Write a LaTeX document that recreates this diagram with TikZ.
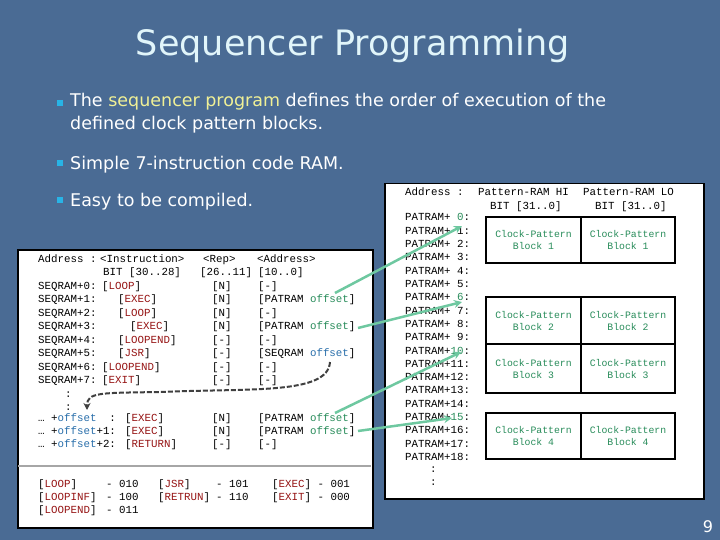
\documentclass[tikz,border=0pt]{standalone}
\usepackage{fontspec}
\setmainfont{DejaVu Sans}
\newfontfamily\mono{Liberation Mono}
\usetikzlibrary{arrows.meta}
\definecolor{bgblue}{RGB}{74,107,148}
\definecolor{kred}{RGB}{150,20,20}
\definecolor{ogreen}{RGB}{40,140,90}
\definecolor{oblue}{RGB}{40,110,170}
\definecolor{agreen}{RGB}{110,200,160}
\definecolor{bcyan}{RGB}{40,180,230}
\definecolor{ttl}{RGB}{225,245,250}
\definecolor{hl}{RGB}{240,240,150}
\newcommand{\KK}[1]{\textcolor{kred}{#1}}
\newcommand{\GG}[1]{\textcolor{ogreen}{#1}}
\newcommand{\BB}[1]{\textcolor{oblue}{#1}}
\tikzset{
 mt/.style={anchor=base west,inner sep=0pt,font=\mono\fontsize{10.8}{12}\selectfont,text=black},
 bl/.style={anchor=base west,inner sep=0pt,font=\fontsize{17.5}{23}\selectfont,text=white,align=left},
 sq/.style={fill=bcyan,minimum size=6pt,inner sep=0pt},
 panel/.style={fill=white,draw=black,line width=1.5pt},
 bt/.style={align=center,font=\mono\fontsize{9.8}{12}\selectfont,text=ogreen},
 garr/.style={agreen,line width=2.5pt,-{Stealth[length=8pt,width=8pt]}},
}
\begin{document}
\begin{tikzpicture}[x=1pt,y=-1pt]
\fill[bgblue] (0,0) rectangle (720,540);
\useasboundingbox (0,0) rectangle (720,540);
% title
\node[font=\fontsize{35}{40}\selectfont,text=ttl] (title) at (353,46) {Sequencer Programming};
% bullets
\node[sq] (s1) at (60,103) {};
\node[bl,anchor=north west] (b1) at (70,93) {The \textcolor{hl}{sequencer program} defines the order of execution of the\\defined clock pattern blocks.};
\node[sq] (s2) at (60,163) {};
\node[bl] (b2) at (70,170) {Simple 7-instruction code RAM.};
\node[sq] (s3) at (60,200) {};
\node[bl] (b3) at (70,207) {Easy to be compiled.};
% left panel
\node[panel,minimum width=355pt,minimum height=278pt,anchor=north west] (lp) at (17,249) {};
\draw[gray!70,line width=2pt] (18,466) -- (371,466);
\foreach \t/\x/\y in {Address :/38/262,{<Instruction>}/100/262,{<Rep>}/203/262,{<Address>}/257/262,{BIT [30..28]}/103/275,{[26..11]}/200/275,{[10..0]}/258/275}
  \node[mt] at (\x,\y) {\t};
\node[mt] (l0) at (38,289) {SEQRAM+0:}; \node[mt] at (102,289) {[\KK{LOOP}]}; \node[mt] at (212,289) {[N]}; \node[mt] at (258,289) {[-]};
\node[mt] (l1) at (38,302) {SEQRAM+1:}; \node[mt] at (118,302) {[\KK{EXEC}]}; \node[mt] at (212,302) {[N]}; \node[mt] (a1) at (258,302) {[PATRAM \GG{offset}]};
\node[mt] (l2) at (38,316) {SEQRAM+2:}; \node[mt] at (118,316) {[\KK{LOOP}]}; \node[mt] at (212,316) {[N]}; \node[mt] at (258,316) {[-]};
\node[mt] (l3) at (38,329) {SEQRAM+3:}; \node[mt] at (130,329) {[\KK{EXEC}]}; \node[mt] at (212,329) {[N]}; \node[mt] (a2) at (258,329) {[PATRAM \GG{offset}]};
\node[mt] (l4) at (38,343) {SEQRAM+4:}; \node[mt] at (118,343) {[\KK{LOOPEND}]}; \node[mt] at (212,343) {[-]}; \node[mt] at (258,343) {[-]};
\node[mt] (l5) at (38,356) {SEQRAM+5:}; \node[mt] at (118,356) {[\KK{JSR}]}; \node[mt] at (212,356) {[-]}; \node[mt] (a5) at (258,356) {[SEQRAM \BB{offset}]};
\node[mt] (l6) at (38,370) {SEQRAM+6:}; \node[mt] at (102,370) {[\KK{LOOPEND}]}; \node[mt] at (212,370) {[-]}; \node[mt] at (258,370) {[-]};
\node[mt] (l7) at (38,383) {SEQRAM+7:}; \node[mt] at (102,383) {[\KK{EXIT}]}; \node[mt] at (212,383) {[-]}; \node[mt] at (258,383) {[-]};
\node[mt] (c1) at (65,397) {:};
\node[mt] (c2) at (65,410) {:};
\node[mt] (o0) at (38,421) {\dots\ +\BB{offset}~~:}; \node[mt] at (125,421) {[\KK{EXEC}]}; \node[mt] at (212,421) {[N]}; \node[mt] (a3) at (258,421) {[PATRAM \GG{offset}]};
\node[mt] (o1) at (38,434) {\dots\ +\BB{offset}+1:}; \node[mt] at (125,434) {[\KK{EXEC}]}; \node[mt] at (212,434) {[N]}; \node[mt] (a4) at (258,434) {[PATRAM \GG{offset}]};
\node[mt] (o2) at (38,447) {\dots\ +\BB{offset}+2:}; \node[mt] at (125,447) {[\KK{RETURN}]}; \node[mt] at (212,447) {[-]}; \node[mt] at (258,447) {[-]};
% legend
\node[mt] at (38,487) {[\KK{LOOP}]}; \node[mt] at (106,487) {- 010};
\node[mt] at (38,500) {[\KK{LOOPINF}]}; \node[mt] at (106,500) {- 100};
\node[mt] at (38,513) {[\KK{LOOPEND}]}; \node[mt] at (106,513) {- 011};
\node[mt] at (158,487) {[\KK{JSR}]}; \node[mt] at (216,487) {- 101};
\node[mt] at (158,500) {[\KK{RETRUN}]}; \node[mt] at (216,500) {- 110};
\node[mt] at (272,487) {[\KK{EXEC}] - 001};
\node[mt] at (272,500) {[\KK{EXIT}] - 000};
% dashed jump
\coordinate (d0) at (330,362);
\coordinate (d1) at (87,410);
\draw[black!75,line width=2pt,dash pattern=on 5pt off 2pt,-{Stealth[length=7pt,width=7pt]}] (d0) .. controls (328,395) and (250,388) .. (160,392) .. controls (100,393) and (87,392) .. (d1);
% right panel
\node[panel,minimum width=319pt,minimum height=315pt,anchor=north west] (rp) at (384,183) {};
\node[mt] (rh0) at (405,196) {Address :};
\node[mt] (rh1) at (478,196) {Pattern-RAM HI};
\node[mt] (rh2) at (583,196) {Pattern-RAM LO};
\node[mt] (rh3) at (490,210) {BIT [31..0]};
\node[mt] (rh4) at (595,210) {BIT [31..0]};
\foreach \i in {0,...,9} \node[mt] (p\i) at (405,{221+13.3*\i}) {PATRAM+ \ifnum\i=0 \GG{0}\else\ifnum\i=6 \GG{6}\else\i\fi\fi:};
\foreach \i in {10,...,18} \node[mt] (p\i) at (405,{221+13.3*\i}) {PATRAM+\ifnum\i=10 \GG{10}\else\ifnum\i=15 \GG{15}\else\i\fi\fi:};
\node[mt] (rc1) at (430,472) {:};
\node[mt] (rc2) at (430,485) {:};
\foreach \n/\t/\b in {1/217/263,2/297/344,3/344/393,4/413/459}{
  \draw[line width=1.3pt] (486,\t) rectangle (675,\b);
  \draw[line width=1.3pt] (581,\t) -- (581,\b);
  \node[bt] (bh\n) at (533.5,{(\t+\b)/2}) {Clock-Pattern\\Block \n};
  \node[bt] (bl\n) at (628,{(\t+\b)/2}) {Clock-Pattern\\Block \n};
}
% green arrows
\coordinate (g1s) at (335,293); \coordinate (g1e) at (462,226);
\coordinate (g2s) at (358,328); \coordinate (g2e) at (462,302);
\coordinate (g3s) at (335,413); \coordinate (g3e) at (461,352);
\coordinate (g4s) at (358,431); \coordinate (g4e) at (452,418);
\draw[garr] (g1s) -- (g1e);
\draw[garr] (g2s) -- (g2e);
\draw[garr] (g3s) -- (g3e);
\draw[garr] (g4s) -- (g4e);
\node[font=\fontsize{16}{18}\selectfont,text=white] (pg) at (708,527) {9};
\end{tikzpicture}
\end{document}
